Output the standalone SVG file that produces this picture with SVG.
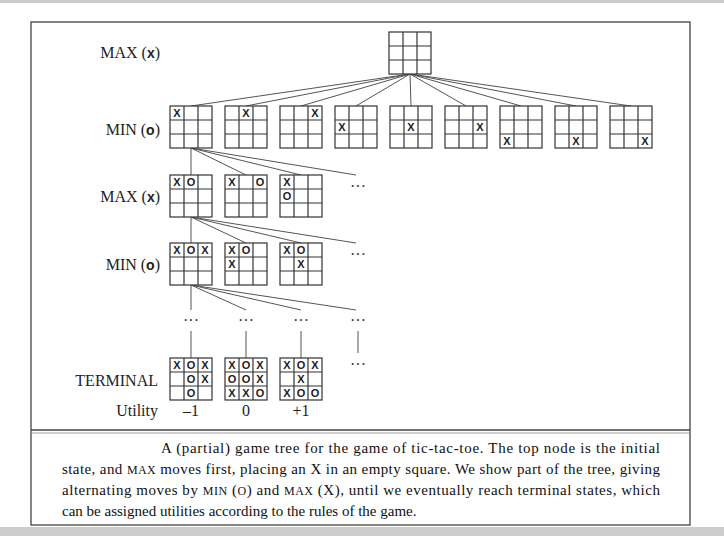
<svg xmlns="http://www.w3.org/2000/svg" width="724" height="536" viewBox="0 0 724 536">
<style>
.bg{fill:#fff}
.frame{fill:none;stroke:#444;stroke-width:1.3}
.b rect{fill:#fff;stroke:#333;stroke-width:1.2}
.b line{stroke:#333;stroke-width:1.2}
.m{font-family:"Liberation Sans",Arial,sans-serif;font-weight:bold;font-size:11px;text-anchor:middle;fill:#222}
.lab{font-family:"Liberation Serif","Times New Roman",serif;font-size:16px;fill:#222}
.xo{font-family:"Liberation Sans",Arial,sans-serif;font-weight:bold;font-size:14px}
.cap{font-family:"Liberation Serif","Times New Roman",serif;font-size:15px;fill:#111}
.sc{font-size:12px}
.dots{font-family:"Liberation Serif",serif;font-size:16px;fill:#333;text-anchor:middle}
#conn line{stroke:#555;stroke-width:1}
</style>
<defs>
<g id="grid" class="b"><rect x="0" y="0" width="42" height="42"/><line x1="14" y1="0" x2="14" y2="42"/><line x1="28" y1="0" x2="28" y2="42"/><line x1="0" y1="14" x2="42" y2="14"/><line x1="0" y1="28" x2="42" y2="28"/></g>
</defs>
<rect x="0" y="0" width="724" height="536" fill="#fff"/>
<rect x="0" y="0" width="724" height="3" fill="#ccc"/>
<rect x="0" y="527" width="724" height="9" fill="#ccc"/>
<rect class="frame" x="31" y="22" width="659" height="503"/>
<line x1="31" y1="430" x2="690" y2="430" stroke="#444" stroke-width="1.3"/>
<line x1="31" y1="433" x2="690" y2="433" stroke="#888" stroke-width="0.8"/>

<g id="labels">
<text class="lab" x="160" y="58" text-anchor="end">MAX (<tspan class="xo">x</tspan>)</text>
<text class="lab" x="160" y="135" text-anchor="end">MIN (<tspan class="xo">o</tspan>)</text>
<text class="lab" x="160" y="202" text-anchor="end">MAX (<tspan class="xo">x</tspan>)</text>
<text class="lab" x="160" y="270" text-anchor="end">MIN (<tspan class="xo">o</tspan>)</text>
<text class="lab" x="158" y="386" text-anchor="end">TERMINAL</text>
<text class="lab" x="158" y="416" text-anchor="end">Utility</text>
<text class="lab" x="191" y="416" text-anchor="middle">–1</text>
<text class="lab" x="246" y="416" text-anchor="middle">0</text>
<text class="lab" x="301" y="416" text-anchor="middle">+1</text>
</g>

<g id="conn">
<line x1="410" y1="74" x2="191" y2="106"/><line x1="410" y1="74" x2="246" y2="106"/><line x1="410" y1="74" x2="301" y2="106"/><line x1="410" y1="74" x2="356" y2="106"/><line x1="410" y1="74" x2="411" y2="106"/><line x1="410" y1="74" x2="466" y2="106"/><line x1="410" y1="74" x2="521" y2="106"/><line x1="410" y1="74" x2="576" y2="106"/><line x1="410" y1="74" x2="631" y2="106"/>
<line x1="191" y1="148" x2="191" y2="175"/><line x1="191" y1="148" x2="246" y2="175"/><line x1="191" y1="148" x2="301" y2="175"/><line x1="191" y1="148" x2="356" y2="175"/>
<line x1="191" y1="217" x2="191" y2="243"/><line x1="191" y1="217" x2="246" y2="243"/><line x1="191" y1="217" x2="301" y2="243"/><line x1="191" y1="217" x2="356" y2="243"/>
<line x1="191" y1="285" x2="191" y2="310"/><line x1="191" y1="285" x2="246" y2="310"/><line x1="191" y1="285" x2="301" y2="310"/><line x1="191" y1="285" x2="356" y2="310"/>
<line x1="191" y1="331" x2="191" y2="358"/><line x1="246" y1="331" x2="246" y2="358"/><line x1="301" y1="331" x2="301" y2="358"/><line x1="358" y1="331" x2="358" y2="353"/>
</g>

<g id="dots">
<text class="dots" x="358" y="192">···</text>
<text class="dots" x="358" y="260">···</text>
<text class="dots" x="191" y="326">···</text>
<text class="dots" x="246" y="326">···</text>
<text class="dots" x="301" y="326">···</text>
<text class="dots" x="358" y="326">···</text>
<text class="dots" x="358" y="370">···</text>
</g>

<g id="root" transform="translate(389,32)"><use href="#grid"/></g>

<g id="min1-1" transform="translate(170,106)"><use href="#grid"/><text class="m" x="7" y="11">X</text></g>
<g id="min1-2" transform="translate(225,106)"><use href="#grid"/><text class="m" x="21" y="11">X</text></g>
<g id="min1-3" transform="translate(280,106)"><use href="#grid"/><text class="m" x="35" y="11">X</text></g>
<g id="min1-4" transform="translate(335,106)"><use href="#grid"/><text class="m" x="7" y="25">X</text></g>
<g id="min1-5" transform="translate(390,106)"><use href="#grid"/><text class="m" x="21" y="25">X</text></g>
<g id="min1-6" transform="translate(445,106)"><use href="#grid"/><text class="m" x="35" y="25">X</text></g>
<g id="min1-7" transform="translate(500,106)"><use href="#grid"/><text class="m" x="7" y="39">X</text></g>
<g id="min1-8" transform="translate(555,106)"><use href="#grid"/><text class="m" x="21" y="39">X</text></g>
<g id="min1-9" transform="translate(610,106)"><use href="#grid"/><text class="m" x="35" y="39">X</text></g>

<g id="max2-1" transform="translate(170,175)"><use href="#grid"/><text class="m" x="7" y="11">X</text><text class="m" x="21" y="11">O</text></g>
<g id="max2-2" transform="translate(225,175)"><use href="#grid"/><text class="m" x="7" y="11">X</text><text class="m" x="35" y="11">O</text></g>
<g id="max2-3" transform="translate(280,175)"><use href="#grid"/><text class="m" x="7" y="11">X</text><text class="m" x="7" y="25">O</text></g>

<g id="min2-1" transform="translate(170,243)"><use href="#grid"/><text class="m" x="7" y="11">X</text><text class="m" x="21" y="11">O</text><text class="m" x="35" y="11">X</text></g>
<g id="min2-2" transform="translate(225,243)"><use href="#grid"/><text class="m" x="7" y="11">X</text><text class="m" x="21" y="11">O</text><text class="m" x="7" y="25">X</text></g>
<g id="min2-3" transform="translate(280,243)"><use href="#grid"/><text class="m" x="7" y="11">X</text><text class="m" x="21" y="11">O</text><text class="m" x="21" y="25">X</text></g>

<g id="term-1" transform="translate(170,358)"><use href="#grid"/><text class="m" x="7" y="11">X</text><text class="m" x="21" y="11">O</text><text class="m" x="35" y="11">X</text><text class="m" x="21" y="25">O</text><text class="m" x="35" y="25">X</text><text class="m" x="21" y="39">O</text></g>
<g id="term-2" transform="translate(225,358)"><use href="#grid"/><text class="m" x="7" y="11">X</text><text class="m" x="21" y="11">O</text><text class="m" x="35" y="11">X</text><text class="m" x="7" y="25">O</text><text class="m" x="21" y="25">O</text><text class="m" x="35" y="25">X</text><text class="m" x="7" y="39">X</text><text class="m" x="21" y="39">X</text><text class="m" x="35" y="39">O</text></g>
<g id="term-3" transform="translate(280,358)"><use href="#grid"/><text class="m" x="7" y="11">X</text><text class="m" x="21" y="11">O</text><text class="m" x="35" y="11">X</text><text class="m" x="21" y="25">X</text><text class="m" x="7" y="39">X</text><text class="m" x="21" y="39">O</text><text class="m" x="35" y="39">O</text></g>

<g id="caption">
<text class="cap" x="161" y="453" textLength="499" lengthAdjust="spacing">A (partial) game tree for the game of tic-tac-toe.  The top node is the initial</text>
<text class="cap" x="62" y="474" textLength="598" lengthAdjust="spacing">state, and <tspan class="sc">MAX</tspan> moves first, placing an X in an empty square. We show part of the tree, giving</text>
<text class="cap" x="62" y="495" textLength="598" lengthAdjust="spacing">alternating moves by <tspan class="sc">MIN</tspan> (<tspan class="sc">O</tspan>) and <tspan class="sc">MAX</tspan> (X), until we eventually reach terminal states, which</text>
<text class="cap" x="62" y="516">can be assigned utilities according to the rules of the game.</text>
</g>
</svg>
